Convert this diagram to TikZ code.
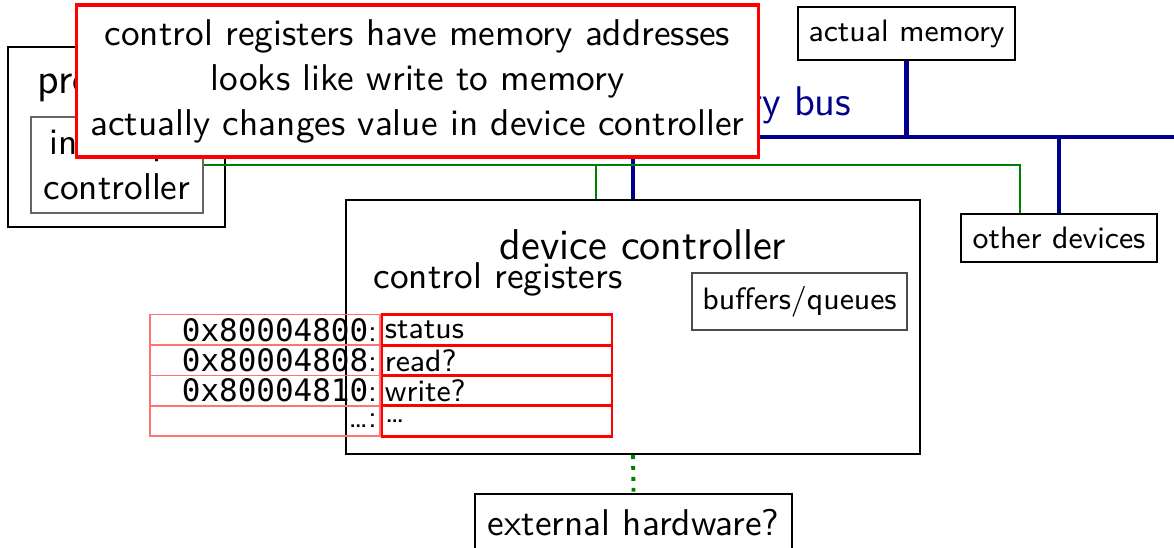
\documentclass[tikz,border=0pt]{standalone}
\usepackage{fontspec}
\setmonofont{DejaVu Sans Mono}
\renewcommand{\familydefault}{\sfdefault}
\usetikzlibrary{positioning}
\definecolor{busblue}{RGB}{0,0,140}
\definecolor{wiregreen}{RGB}{0,128,0}
\newcommand{\hwsmall}{\fontsize{8.8}{10.5}\selectfont}
\newcommand{\hwmid}{\fontsize{10.6}{12.8}\selectfont}
\newcommand{\hwbig}{\fontsize{12.25}{14.5}\selectfont}
\tikzset{
  hwbox/.style={draw, semithick, fill=white, inner sep=0pt, font=\hwsmall},
  regaddr/.style={draw=red!55, line width=0.4pt, minimum width=2.3cm, minimum height=0.305cm,
                  text width=2.24cm, inner xsep=0.03cm, inner ysep=0pt, align=right, font=\hwsmall},
  regval/.style={draw=red, line width=0.8pt, minimum width=2.3cm, minimum height=0.305cm,
                 text width=2.24cm, inner xsep=0.03cm, inner ysep=0pt, align=left, font=\hwsmall},
  bus/.style={busblue, line width=1.2pt},
  wire/.style={wiregreen, line width=0.45pt},
  notebox/.style={draw=red, line width=0.9pt, fill=white, font=\hwmid, align=center,
                  minimum width=6.81cm, minimum height=1.52cm, inner sep=0pt},
}

\begin{document}
\begin{tikzpicture}[x=0.01cm, y=-0.01cm]
\useasboundingbox (0,0) rectangle (1174,547);
\clip (0,0) rectangle (1174,547);

% Processor side
\node[hwbox, minimum width=2.17cm, minimum height=1.8cm] (processor) at (116.5,137) {};
\node[font=\hwbig, anchor=base west, inner sep=0pt] (proclabel) at (37,93) {processor};
\node[draw=black!60, line width=0.5pt, fill=white, font=\hwmid, align=center, inner sep=0pt,
      minimum width=1.72cm, minimum height=0.96cm] (intctl) at (117,165) {interrupt\\controller};

% Memory bus
\coordinate (busend) at (1180,0);
\draw[bus] (processor.east) -- (processor.east -| busend);
\node[font=\fontsize{11.8}{14}\selectfont, text=busblue, anchor=base east, inner sep=0pt] (buslabel) at (852,115) {memory bus};

\node[hwbox, minimum width=2.17cm, minimum height=0.53cm] (memory) at (906.5,33.5) {actual memory};
\draw[bus] (memory.south) -- (memory.south |- processor.east);

\node[hwbox, minimum width=1.96cm, minimum height=0.48cm] (others) at (1059,238) {other devices};
\draw[bus] (others.north) -- (others.north |- processor.east);

% Device controller
\node[hwbox, minimum width=5.74cm, minimum height=2.54cm] (devctl) at (633,327) {};
\draw[bus] (devctl.north) -- (devctl.north |- processor.east);
\node[font=\hwbig, inner sep=0pt] (devtitle) at (643,245) {device controller};
\node[font=\hwmid, anchor=base west, inner sep=0pt] (reglabel) at (373,288) {control registers};
\node[draw=black!70, line width=0.5pt, inner sep=0pt, font=\hwsmall,
      minimum width=2.15cm, minimum height=0.57cm] (buffers) at (799.5,301.5) {buffers/queues};

% Interrupt wires
\draw[wire] (intctl.east) -- ([xshift=-0.39cm]others.north |- intctl.east) -- ([xshift=-0.39cm]others.north);
\draw[wire] ([xshift=-0.37cm]devctl.north) |- (intctl.east);

% Register table
\foreach \addr/\val [count=\i] in {\texttt{0x80004800}/status, \texttt{0x80004808}/read?,
                                   \texttt{0x80004810}/write?, \ldots/\ldots} {
  \node[regaddr] (addr\i) at (265,{330+30.3*(\i-1)}) {\addr:};
  \node[regval] (val\i) at (497,{330+30.3*(\i-1)}) {\val};
}

% External hardware
\node[hwbox, font=\hwmid, minimum width=3.17cm, minimum height=0.58cm] (exthw) at (633.5,523) {external hardware?};
\draw[wiregreen, line width=1.1pt, dotted] (devctl.south) -- (exthw.north);

% Note
\node[notebox] (note) at (417.5,81)
  {control registers have memory addresses\\looks like write to memory\\actually changes value in device controller};

\end{tikzpicture}
\end{document}
